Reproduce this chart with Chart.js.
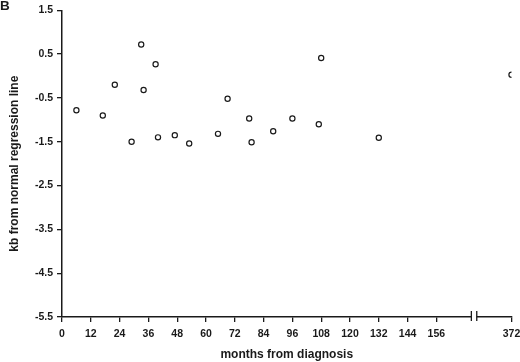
<!DOCTYPE html>
<html lang="en">
<head>
    <meta charset="UTF-8">
    <title>kb from normal regression line</title>
    <style>
        html, body { margin: 0; padding: 0; background: #fff; }
        #chartBox { width: 520px; height: 362px; position: relative; }
    </style>
    <script src="https://cdn.jsdelivr.net/npm/chart.js"></script>
</head>
<body>
    <div id="chartBox">
        <canvas id="kbChart"></canvas>
    </div>

    <script>
        // values
        const months = [6, 17, 22, 29, 33, 34, 39, 40, 47, 53, 65, 69, 78, 79, 88, 96, 107, 108, 132, 372];
        const kbValues = [-0.78, -0.90, -0.20, -1.50, 0.72, -0.32, 0.27, -1.40, -1.35, -1.54, -1.32, -0.52, -0.97, -1.51, -1.26, -0.97, -1.10, 0.41, -1.41, 0.03];
        const xTickLabels = [0, 12, 24, 36, 48, 60, 72, 84, 96, 108, 120, 132, 144, 156, 372];
        const yTickLabels = [-5.5, -4.5, -3.5, -2.5, -1.5, -0.5, 0.5, 1.5];

        // the axis is broken after 156: 372 sits just past the break
        const breakAt = 171.7;
        const pos372 = 187.3;
        const toAxis = m => (m > 160 ? pos372 : m);

        const font = { family: 'Liberation Sans, Arial, sans-serif', weight: 'bold' };
        const ink = '#1a1a1a';

        const decorations = {
            id: 'decorations',
            afterDraw(chart) {
                const ctx = chart.ctx;
                const x = chart.scales.x;
                const y0 = chart.chartArea.bottom;
                const px = x.getPixelForValue(breakAt);
                ctx.save();
                ctx.fillStyle = '#fff';
                ctx.fillRect(px - 2.6, y0 - 2, 5.2, 4);
                ctx.strokeStyle = ink;
                ctx.lineWidth = 1.3;
                ctx.beginPath();
                ctx.moveTo(px - 2.7, y0 - 6);
                ctx.lineTo(px - 2.7, y0 + 4);
                ctx.moveTo(px + 2.7, y0 - 6);
                ctx.lineTo(px + 2.7, y0 + 4);
                ctx.stroke();

                ctx.fillStyle = ink;
                ctx.font = 'bold 13.5px Liberation Sans, Arial, sans-serif';
                ctx.textBaseline = 'top';
                ctx.fillText('B', 0, 0);
                ctx.restore();
            }
        };

        new Chart(document.getElementById('kbChart'), {
            type: 'scatter',
            data: {
                datasets: [{
                    data: months.map((m, i) => ({ x: toAxis(m), y: kbValues[i] })),
                    pointStyle: 'circle',
                    pointRadius: 2.6,
                    pointBorderWidth: 1.2,
                    borderColor: ink,
                    backgroundColor: '#fff'
                }]
            },
            options: {
                responsive: true,
                maintainAspectRatio: false,
                animation: false,
                layout: { padding: { top: 10, right: 0, left: 0, bottom: 0 } },
                plugins: {
                    legend: { display: false },
                    tooltip: { enabled: false }
                },
                scales: {
                    x: {
                        type: 'linear',
                        min: 0,
                        max: pos372,
                        afterBuildTicks: s => { s.ticks = xTickLabels.map(v => ({ value: toAxis(v) })); },
                        afterFit: s => { s.height = 45; s.paddingRight = 8.5; s.paddingLeft = 0; },
                        ticks: {
                            color: ink,
                            font: { ...font, size: 10.5 },
                            padding: 6,
                            maxRotation: 0,
                            autoSkip: false,
                            callback: v => (v > 160 ? '372' : String(v))
                        },
                        grid: { drawOnChartArea: false, drawTicks: true, tickLength: 5, color: ink, lineWidth: 1.3 },
                        border: { display: true, color: ink, width: 1.5 },
                        title: {
                            display: true,
                            text: 'months from diagnosis',
                            color: ink,
                            font: { ...font, size: 12 },
                            padding: { top: 0, bottom: 0 }
                        }
                    },
                    y: {
                        min: -5.5,
                        max: 1.5,
                        afterBuildTicks: s => { s.ticks = yTickLabels.map(v => ({ value: v })); },
                        afterFit: s => { s.width = 62; },
                        ticks: {
                            color: ink,
                            font: { ...font, size: 10.5 },
                            padding: 4,
                            callback: v => v.toFixed(1)
                        },
                        grid: { drawOnChartArea: false, drawTicks: true, tickLength: 5, color: ink, lineWidth: 1.3 },
                        border: { display: true, color: ink, width: 1.5 },
                        title: {
                            display: true,
                            text: 'kb from normal regression line',
                            color: ink,
                            font: { ...font, size: 12 },
                            padding: { top: 7, bottom: 0 }
                        }
                    }
                }
            },
            plugins: [decorations]
        });
    </script>
</body>
</html>
